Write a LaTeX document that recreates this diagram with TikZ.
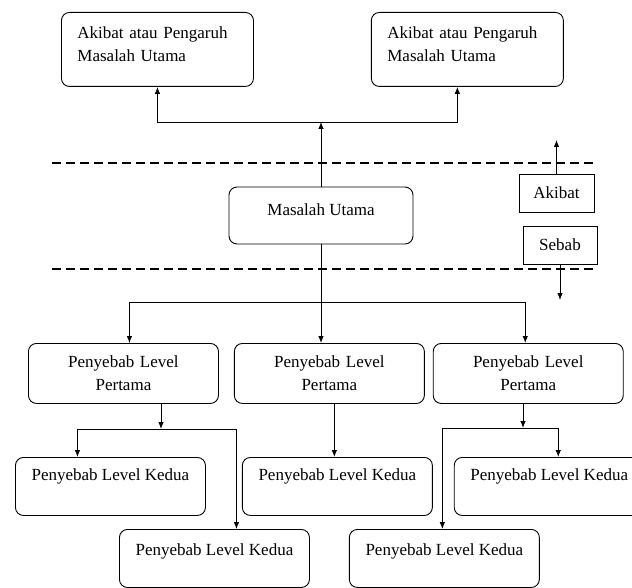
\documentclass[tikz,border=0pt]{standalone}
\usepackage{fontspec}
\setmainfont{Liberation Serif}
\usetikzlibrary{calc}
\usetikzlibrary{positioning}
\usetikzlibrary{arrows.meta}
\tikzset{
    roundbox/.style={draw, rectangle, rounded corners=8pt, line width=0.9pt, inner sep=0pt},
    tagbox/.style={draw, rectangle, line width=0.9pt, inner sep=0pt, minimum width=75pt, minimum height=38pt},
    conn/.style={line width=0.8pt, >={Latex[length=7pt, width=5.5pt]}},
    divider/.style={line width=1.6pt, dash pattern=on 9pt off 5pt}
}

\begin{document}
\begin{tikzpicture}[x=1pt, y=-1pt, align=center, font=\fontsize{17}{23}\selectfont]
    \pgfmathsetmacro{\boxWidth}{190}
    \pgfmathsetmacro{\topHeight}{74}
    \pgfmathsetmacro{\firstHeight}{60}
    \pgfmathsetmacro{\secondHeight}{58}

    \useasboundingbox (0,0) rectangle (632,588);

    \node (akibatA) [roundbox, anchor=north west, minimum width=192pt, minimum height=\topHeight pt, text width=160pt, align=left, text height=26pt, text depth=48pt] at (61,12) {Akibat atau Pengaruh\\Masalah Utama};
    \node (akibatB) [roundbox, minimum width=192pt, minimum height=\topHeight pt, text width=160pt, align=left, text height=26pt, text depth=48pt, right=117pt of akibatA] {Akibat atau Pengaruh\\Masalah Utama};

    \node (masalah) [roundbox, minimum width=184pt, minimum height=57pt, text height=29pt, text depth=28pt] at (321,215.5) {Masalah Utama};
    \node (tagAkibat) [tagbox] at (556.5,193) {Akibat};
    \node (tagSebab) [tagbox, minimum width=74pt] at (560,245) {Sebab};

    \node (pertamaA) [roundbox, anchor=north west, minimum width=\boxWidth pt, minimum height=\firstHeight pt, text width=170pt, text height=24pt, text depth=36pt] at (28,343) {Penyebab Level\\Pertama};
    \node (pertamaB) [roundbox, minimum width=\boxWidth pt, minimum height=\firstHeight pt, text width=170pt, text height=24pt, text depth=36pt, right=15pt of pertamaA] {Penyebab Level\\Pertama};
    \node (pertamaC) [roundbox, minimum width=\boxWidth pt, minimum height=\firstHeight pt, text width=170pt, text height=24pt, text depth=36pt, right=8pt of pertamaB] {Penyebab Level\\Pertama};

    \node (keduaA) [roundbox, anchor=north west, minimum width=\boxWidth pt, minimum height=\secondHeight pt, text height=23pt, text depth=35pt] at (15,457) {Penyebab Level Kedua};
    \node (keduaB) [roundbox, minimum width=\boxWidth pt, minimum height=\secondHeight pt, text height=23pt, text depth=35pt, right=36pt of keduaA] {Penyebab Level Kedua};
    \node (keduaC) [roundbox, minimum width=\boxWidth pt, minimum height=\secondHeight pt, text height=23pt, text depth=35pt, right=21pt of keduaB] {Penyebab Level Kedua};
    \node (keduaD) [roundbox, anchor=north west, minimum width=\boxWidth pt, minimum height=\secondHeight pt, text height=26pt, text depth=32pt] at (119,529) {Penyebab Level Kedua};
    \node (keduaE) [roundbox, minimum width=\boxWidth pt, minimum height=\secondHeight pt, text height=26pt, text depth=32pt, right=39pt of keduaD] {Penyebab Level Kedua};

    % dividers between akibat and sebab
    \coordinate (divTL) at (52,163);
    \coordinate (divTR) at (597,163);
    \coordinate (divBL) at (52,269);
    \coordinate (divBR) at (597,269);
    \draw [divider] (divTL) -- (divTR);
    \draw [divider] (divBL) -- (divBR);

    \coordinate (upEnd) at (556.5,140);
    \coordinate (downEnd) at (560,300);
    \draw [conn, ->] (tagAkibat.north) -- (upEnd);
    \draw [conn, ->] (tagSebab.south) -- (downEnd);

    % upwards to the effects
    \coordinate (junTop) at (321,122);
    \draw [conn, ->] (masalah.north) -- (junTop);
    \draw [conn, ->] (junTop) -| (akibatA.south);
    \draw [conn, ->] (junTop) -| ([xshift=-10pt]akibatB.south);

    % downwards to the causes
    \coordinate (junMid) at (321,302);
    \draw [conn] (masalah.south) -- (junMid);
    \draw [conn, ->] (junMid) -| ([xshift=6pt]pertamaA.north);
    \draw [conn, ->] (junMid) -- (junMid |- pertamaB.north);
    \draw [conn, ->] (junMid) -| ([xshift=-3pt]pertamaC.north);

    \coordinate (brA) at (161,429);
    \draw [conn, ->] (pertamaA.south -| brA) -- (brA);
    \draw [conn, ->] (brA) -| ([xshift=-33pt]keduaA.north);
    \draw [conn, ->] (brA) -| ([xshift=22pt]keduaD.north);

    \draw [conn, ->] ([xshift=5pt]pertamaB.south) -- ([xshift=5pt]pertamaB.south |- keduaB.north);

    \coordinate (brC) at (523,428);
    \draw [conn, ->] (pertamaC.south -| brC) -- (brC);
    \draw [conn, ->] (brC) -| ([xshift=9pt]keduaC.north);
    \draw [conn, ->] (brC) -| ([xshift=-2pt]keduaE.north);

\end{tikzpicture}
\end{document}
